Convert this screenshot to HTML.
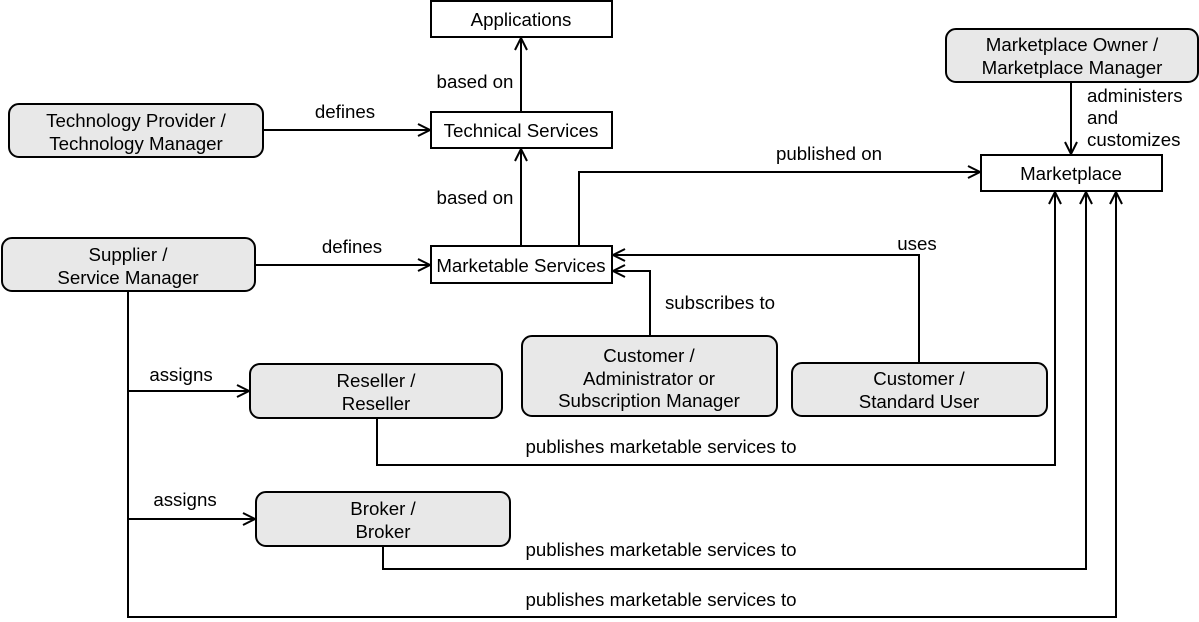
<!DOCTYPE html>
<html><head><meta charset="utf-8"><style>
html,body{margin:0;padding:0;background:#fff;width:1199px;height:622px;overflow:hidden}
text{font-family:"Liberation Sans",Arial,sans-serif;font-size:18.7px;fill:#000}
</style></head><body>
<svg width="1199" height="622" viewBox="0 0 1199 622" xmlns="http://www.w3.org/2000/svg">
<defs>
<marker id="a" markerWidth="14" markerHeight="14" refX="13" refY="7" orient="auto" markerUnits="userSpaceOnUse">
<path d="M1,1 L13,7 L1,13" fill="none" stroke="#000" stroke-width="2"/>
</marker>
</defs>
<g fill="none" stroke="#000" stroke-width="2">
<rect x="431" y="1" width="181" height="36"/>
<rect x="431" y="112" width="181" height="36"/>
<rect x="431" y="246" width="181" height="37"/>
<rect x="981" y="155" width="181" height="36"/>
</g>
<g fill="#e8e8e8" stroke="#000" stroke-width="2">
<rect x="9" y="104" width="254" height="53" rx="10"/>
<rect x="2" y="238" width="253" height="53" rx="10"/>
<rect x="946" y="29" width="252" height="53" rx="10"/>
<rect x="522" y="336" width="255" height="80" rx="10"/>
<rect x="792" y="363" width="255" height="53" rx="10"/>
<rect x="250" y="364" width="252" height="54" rx="10"/>
<rect x="256" y="492" width="254" height="54" rx="10"/>
</g>
<g fill="none" stroke="#000" stroke-width="2" marker-end="url(#a)">
<path d="M263,130 H430"/>
<path d="M255,265 H430"/>
<path d="M521,246 V149"/>
<path d="M521,112 V38"/>
<path d="M579,246 V172 H980"/>
<path d="M1071,82 V154"/>
<path d="M919,363 V255 H613"/>
<path d="M650,336 V271 H613"/>
<path d="M128,291 V617 H1116 V192"/>
<path d="M128,391 H249"/>
<path d="M128,519 H255"/>
<path d="M377,418 V465 H1055 V192"/>
<path d="M383,546 V569 H1086 V192"/>
</g>
<g text-anchor="middle">
<text x="521" y="26">Applications</text>
<text x="521" y="137">Technical Services</text>
<text x="521" y="272">Marketable Services</text>
<text x="1071" y="180">Marketplace</text>
<text x="136" y="127">Technology Provider /</text>
<text x="136" y="150">Technology Manager</text>
<text x="128" y="261">Supplier /</text>
<text x="128" y="284">Service Manager</text>
<text x="1072" y="51">Marketplace Owner /</text>
<text x="1072" y="74">Marketplace Manager</text>
<text x="649" y="362">Customer /</text>
<text x="649" y="385">Administrator or</text>
<text x="649" y="407">Subscription Manager</text>
<text x="919" y="385">Customer /</text>
<text x="919" y="408">Standard User</text>
<text x="376" y="387">Reseller /</text>
<text x="376" y="410">Reseller</text>
<text x="383" y="515">Broker /</text>
<text x="383" y="538">Broker</text>
<text x="345" y="118">defines</text>
<text x="352" y="253">defines</text>
<text x="475" y="88">based on</text>
<text x="475" y="204">based on</text>
<text x="829" y="160">published on</text>
<text x="917" y="250">uses</text>
<text x="720" y="309">subscribes to</text>
<text x="181" y="381">assigns</text>
<text x="185" y="506">assigns</text>
<text x="661" y="453">publishes marketable services to</text>
<text x="661" y="556">publishes marketable services to</text>
<text x="661" y="606">publishes marketable services to</text>
</g>
<text x="1087" y="102">administers</text>
<text x="1087" y="124">and</text>
<text x="1087" y="146">customizes</text>
</svg>
</body></html>
